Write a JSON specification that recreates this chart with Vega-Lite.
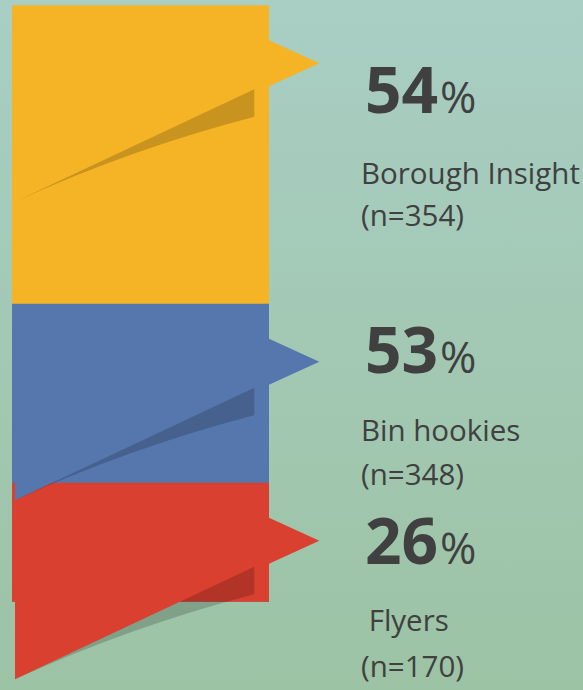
{
  "$schema": "https://vega.github.io/schema/vega-lite/v6.json",
  "width": 583,
  "height": 690,
  "padding": 0,
  "autosize": {"type": "none"},
  "background": "#a3c9b5",
  "config": {"view": {"stroke": null}},
  "data": {
    "values": [
      {"rank": 1, "label": "Borough Insight", "pct": 54, "n": 354},
      {"rank": 2, "label": "Bin hookies", "pct": 53, "n": 348},
      {"rank": 3, "label": "\u200b\u00a0Flyers", "pct": 26, "n": 170}
    ]
  },
  "resolve": {"scale": {"y": "independent"}},
  "layer": [
    {
      "data": {"values": [{}]},
      "mark": {
        "type": "rect",
        "color": {
          "gradient": "linear",
          "x1": 0, "y1": 0, "x2": 0, "y2": 1,
          "stops": [
            {"offset": 0, "color": "#a9cec4"},
            {"offset": 1, "color": "#9cc3a4"}
          ]
        }
      },
      "encoding": {
        "x": {"value": 0},
        "x2": {"value": "width"},
        "y": {"value": 0},
        "y2": {"value": "height"}
      }
    },
    {
      "mark": {"type": "rect", "yOffset": -58, "y2Offset": 61},
      "encoding": {
        "x": {"datum": 12, "type": "quantitative", "scale": {"domain": [0, 583], "nice": false, "zero": false}, "axis": null},
        "x2": {"datum": 269},
        "y": {"field": "rank", "type": "quantitative", "scale": {"type": "pow", "exponent": 0.045, "domain": [1, 3], "range": [63.3, 540.7], "nice": false, "zero": false}, "axis": null},
        "y2": {"datum": 3},
        "color": {"field": "rank", "type": "nominal", "scale": {"domain": [1, 2, 3], "range": ["#f4b425", "#5677ae", "#d94030"]}, "legend": null}
      }
    },
    {
      "mark": {"type": "point", "filled": true, "opacity": 1, "size": 4, "strokeWidth": 0, "shape": "M-304.3,26 L-65,26 L-304.3,138.5 Z"},
      "encoding": {
        "x": {"datum": 319.3, "type": "quantitative", "scale": {"domain": [0, 583], "nice": false, "zero": false}, "axis": null},
        "y": {"field": "rank", "type": "quantitative", "scale": {"type": "pow", "exponent": 0.045, "domain": [1, 3], "range": [63.3, 540.7], "nice": false, "zero": false}, "axis": null},
        "color": {"field": "rank", "type": "nominal", "scale": {"domain": [1, 2, 3], "range": ["#f4b425", "#5677ae", "#d94030"]}, "legend": null}
      }
    },
    {
      "mark": {"type": "point", "filled": true, "color": "#000000", "opacity": 0.18, "size": 4, "strokeWidth": 0, "shape": "M-304.3,138.5 L-65,26 L-65,53.5 Q-189.5,86 -304.3,138.5 Z"},
      "encoding": {
        "x": {"datum": 319.3, "type": "quantitative", "scale": {"domain": [0, 583], "nice": false, "zero": false}, "axis": null},
        "y": {"field": "rank", "type": "quantitative", "scale": {"type": "pow", "exponent": 0.045, "domain": [1, 3], "range": [63.3, 540.7], "nice": false, "zero": false}, "axis": null}
      }
    },
    {
      "mark": {"type": "point", "filled": true, "opacity": 1, "size": 4, "strokeWidth": 0, "shape": "M-59.3,-23 L-50.3,-23 L0,0 L-50.3,23 L-59.3,23 Z"},
      "encoding": {
        "x": {"datum": 319.3, "type": "quantitative", "scale": {"domain": [0, 583], "nice": false, "zero": false}, "axis": null},
        "y": {"field": "rank", "type": "quantitative", "scale": {"type": "pow", "exponent": 0.045, "domain": [1, 3], "range": [63.3, 540.7], "nice": false, "zero": false}, "axis": null},
        "color": {"field": "rank", "type": "nominal", "scale": {"domain": [1, 2, 3], "range": ["#f4b425", "#5677ae", "#d94030"]}, "legend": null}
      }
    },
    {
      "mark": {"type": "text", "align": "left", "baseline": "alphabetic", "font": "Open Sans", "fontWeight": "bold", "fontSize": 64, "color": "#404040"},
      "encoding": {
        "x": {"datum": 365, "type": "quantitative", "scale": {"domain": [0, 583], "nice": false, "zero": false}, "axis": null},
        "y": {"field": "rank", "type": "quantitative", "scale": {"type": "pow", "exponent": 0.42, "domain": [1, 3], "range": [113.3, 564], "nice": false, "zero": false}, "axis": null},
        "text": {"field": "pct", "type": "nominal"}
      }
    },
    {
      "mark": {"type": "text", "align": "left", "baseline": "alphabetic", "font": "Open Sans", "fontSize": 44, "color": "#404040", "text": "%"},
      "encoding": {
        "x": {"datum": 440, "type": "quantitative", "scale": {"domain": [0, 583], "nice": false, "zero": false}, "axis": null},
        "y": {"field": "rank", "type": "quantitative", "scale": {"type": "pow", "exponent": 0.42, "domain": [1, 3], "range": [113.3, 564], "nice": false, "zero": false}, "axis": null}
      }
    },
    {
      "mark": {"type": "text", "align": "left", "baseline": "alphabetic", "font": "Open Sans", "fontSize": 29.5, "color": "#404040"},
      "encoding": {
        "x": {"datum": 361, "type": "quantitative", "scale": {"domain": [0, 583], "nice": false, "zero": false}, "axis": null},
        "y": {"field": "rank", "type": "quantitative", "scale": {"type": "pow", "exponent": 0.42, "domain": [1, 3], "range": [183.5, 630.5], "nice": false, "zero": false}, "axis": null},
        "text": {"field": "label", "type": "nominal"}
      }
    },
    {
      "transform": [{"calculate": "'(n=' + datum.n + ')'", "as": "nlabel"}],
      "mark": {"type": "text", "align": "left", "baseline": "alphabetic", "font": "Open Sans", "fontSize": 29.5, "color": "#404040"},
      "encoding": {
        "x": {"datum": 361, "type": "quantitative", "scale": {"domain": [0, 583], "nice": false, "zero": false}, "axis": null},
        "y": {"field": "rank", "type": "quantitative", "scale": {"type": "pow", "exponent": 0.42, "domain": [1, 3], "range": [225.5, 676.5], "nice": false, "zero": false}, "axis": null},
        "text": {"field": "nlabel", "type": "nominal"}
      }
    }
  ]
}
